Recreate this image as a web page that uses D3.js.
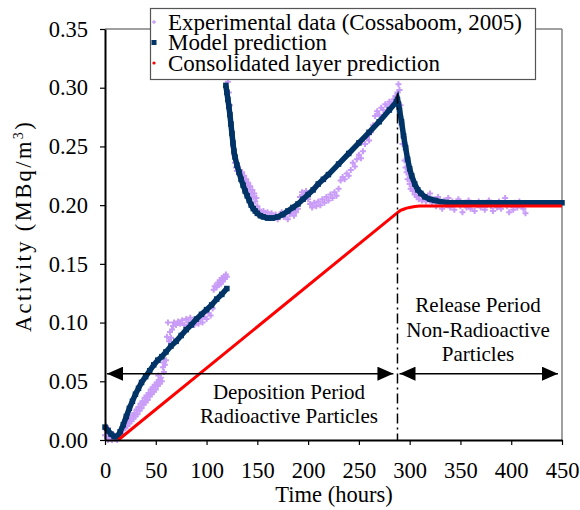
<!DOCTYPE html>
<html>
<head>
<meta charset="utf-8">
<script src="https://cdn.jsdelivr.net/npm/d3@7/dist/d3.min.js"></script>
<style>
  body { margin: 0; background: #fff; }
  svg text { font-family: "Liberation Serif", "Times New Roman", "DejaVu Serif", serif; fill: #000; }
</style>
</head>
<body>
<div id="chart"></div>
<script>
// Datos

// Datos experimentales (Cossaboom, 2005): [tiempo (h), actividad (MBq/m3)]
const experimental = [
  [0,0.004],[1,0.012],[1.5,0.008],[2,0.002],[3,0.010],[3,0.0],[4,0.006],[5,0.001],[6,0.003],[7,0.0],
  [8,0.002],[9,0.004],[10,0.001],[11,0.003],[12,0.0],[13,0.002],[14,0.005],[15,0.008],[16,0.006],[17,0.011],
  [18,0.009],[19,0.013],[20,0.010],[21,0.015],[22,0.012],[23,0.017],[24,0.014],[25,0.019],[26,0.016],[27,0.021],
  [28,0.018],[29,0.023],[30,0.020],[31,0.026],[32,0.022],[33,0.028],[34,0.025],[35,0.031],[36,0.027],[37,0.033],
  [38,0.030],[39,0.036],[40,0.032],[41,0.038],[42,0.034],[43,0.040],[44,0.037],[45,0.043],[46,0.039],[47,0.045],
  [48,0.041],[49,0.047],[50,0.043],[51,0.049],[52,0.046],[52.5,0.055],[53,0.051],[54,0.048],[55,0.053],[56,0.050],
  [57,0.062],[57.5,0.066],[58,0.058],[59,0.064],[60,0.068],[61,0.088],[62,0.100],[63,0.084],[64,0.092],[65,0.087],
  [66,0.094],[67,0.097],[68,0.100],[70,0.098],[72,0.101],[74,0.099],[76,0.102],[78,0.098],[80,0.103],[82,0.100],
  [84,0.104],[86,0.101],[88,0.098],[90,0.102],[92,0.099],[94,0.103],[96,0.100],[98,0.105],[100,0.103],[102,0.108],
  [104,0.106],[106,0.112],[107,0.128],[108,0.131],[110,0.130],[111,0.134],[112,0.132],[113,0.136],[114,0.133],[115,0.138],
  [116,0.135],[117,0.139],[118,0.137],[119,0.141],[120,0.139],
  [121,0.305],[122,0.296],[123,0.285],[124,0.270],[125,0.262],[126,0.250],[127,0.243],[128,0.236],[129,0.232],[130,0.229],
  [131,0.233],[132,0.226],[133,0.230],[134,0.224],[135,0.228],[136,0.221],[137,0.225],[138,0.219],[139,0.222],[140,0.216],
  [141,0.219],[142,0.213],[143,0.216],[144,0.210],[145,0.213],[146,0.207],[147,0.210],[148,0.203],[149,0.206],[150,0.199],
  [152,0.196],[154,0.193],[156,0.195],[158,0.191],[160,0.194],[162,0.190],[164,0.193],[166,0.189],[168,0.192],[170,0.188],
  [172,0.191],[174,0.194],[176,0.190],[178,0.193],[180,0.188],[182,0.192],[184,0.195],[186,0.191],[188,0.194],[190,0.197],
  [192,0.207],[194,0.211],[196,0.208],[198,0.212],[200,0.205],[202,0.201],[204,0.198],[206,0.202],[208,0.199],[210,0.203],
  [212,0.200],[214,0.205],[216,0.202],[218,0.207],[220,0.204],[222,0.209],[224,0.206],[226,0.211],[228,0.208],[230,0.214],
  [232,0.221],[234,0.224],[236,0.222],[238,0.227],[240,0.225],[242,0.230],[244,0.236],[246,0.233],[248,0.239],[250,0.243],
  [252,0.240],[254,0.246],[256,0.252],[258,0.258],[260,0.255],[262,0.262],[264,0.268],[266,0.276],[268,0.280],[270,0.277],
  [272,0.283],[274,0.281],[276,0.286],[278,0.284],[280,0.288],[282,0.286],[284,0.290],[286,0.293],[288,0.296],[289,0.303],
  [290,0.298],[291,0.285],[292,0.268],[293,0.252],[294,0.258],[295,0.238],[296,0.232],[297,0.228],[298,0.222],[299,0.226],
  [300,0.218],[301,0.214],[302,0.221],[303,0.212],[304,0.216],[305,0.209],[306,0.213],[307,0.207],[308,0.211],[309,0.205],
  [310,0.209],[312,0.204],[314,0.208],[316,0.203],[318,0.206],[320,0.210],[322,0.202],[324,0.205],[326,0.199],[328,0.207],
  [330,0.203],[332,0.197],[334,0.204],[336,0.200],[338,0.206],[340,0.198],[342,0.203],[344,0.196],[346,0.201],[348,0.205],
  [350,0.199],[352,0.194],[354,0.202],[356,0.198],[358,0.204],[360,0.197],[362,0.201],[364,0.195],[366,0.200],[368,0.203],
  [370,0.198],[372,0.202],[374,0.196],[376,0.200],[378,0.204],[380,0.199],[382,0.195],[384,0.201],[386,0.198],[388,0.203],
  [390,0.197],[392,0.201],[394,0.206],[396,0.199],[398,0.194],[400,0.200],[402,0.196],[404,0.202],[406,0.198],[408,0.203],
  [410,0.199],[412,0.197],[414,0.193]
];

// Prediccion del modelo, periodo 1 (antes del salto en t = 120 h)
const modelo1 = [
  [0,0.011],[3,0.008],[6,0.005],[9,0.003],[12,0.003],[15,0.007],[18,0.013],[21,0.020],[24,0.027],[27,0.033],
  [30,0.039],[33,0.044],[36,0.049],[40,0.054],[44,0.059],[48,0.064],[52,0.068],[56,0.071],[60,0.075],[65,0.080],
  [70,0.084],[75,0.089],[80,0.094],[85,0.098],[90,0.103],[95,0.107],[100,0.111],[105,0.115],[110,0.120],[115,0.124],
  [120,0.129]
];

// Prediccion del modelo, periodo 2
const modelo2 = [
  [119,0.302],[120,0.296],[121,0.290],[122,0.284],[123,0.277],[124,0.269],[125,0.261],[126,0.253],[127,0.246],[128,0.241],
  [130,0.234],[132,0.228],[134,0.222],[136,0.217],[138,0.212],[140,0.208],[142,0.204],[144,0.200],[146,0.197],[148,0.195],
  [150,0.193],[153,0.191],[156,0.190],[160,0.189],[165,0.189],[170,0.190],[175,0.192],[180,0.195],[185,0.198],[190,0.201],
  [195,0.205],[200,0.209],[205,0.213],[210,0.218],[215,0.222],[220,0.226],[230,0.235],[240,0.244],[250,0.253],[260,0.262],
  [270,0.271],[280,0.281],[287,0.288],[288,0.290],[289,0.286],[290,0.281],[292,0.271],[294,0.259],[296,0.249],[298,0.239],
  [300,0.231],[302,0.225],[305,0.218],[308,0.213],[311,0.210],[315,0.207],[320,0.205],[325,0.204],[330,0.203],[340,0.202],
  [450,0.202]
];

// Prediccion de la capa consolidada
const capa = [
  [13,0.0],[288,0.1936],[291,0.1955],[294,0.1965],[297,0.1975],[300,0.198],[305,0.1988],[310,0.1993],[450,0.1993]
];

// Ticks de los ejes
const xTicks = [0, 50, 100, 150, 200, 250, 300, 350, 400, 450];
const yTicks = [0, 0.05, 0.10, 0.15, 0.20, 0.25, 0.30, 0.35];

// Anotaciones
const tCorte = 288;          // linea vertical de separacion
const tCorteTop = 0.295;
const flechaY = 0.0565;      // altura de las flechas
const flechaDeposicion = [2, 284];
const flechaLiberacion = [290, 446];
const textoDeposicion = ["Deposition Period", "Radioactive Particles"];
const textoLiberacion = ["Release Period", "Non-Radioactive", "Particles"];

// Leyenda
const leyenda = [
  {label: "Experimental data (Cossaboom, 2005)", tipo: "exp"},
  {label: "Model prediction", tipo: "model"},
  {label: "Consolidated layer prediction", tipo: "capa"}
];

const colorExp = "#c99cf8";
const colorModelo = "#003366";
const colorCapa = "#ff0000";

const W = 580, H = 510;

const svg = d3.select("#chart").append("svg")
    .attr("width", W)
    .attr("height", H);

// Escalas
const x = d3.scaleLinear().domain([0, 450]).range([105, 562]);
const y = d3.scaleLinear().domain([0, 0.35]).range([440, 29]);

// Marco gris del area de trazado (arriba y a la derecha)
svg.append("line")
    .attr("x1", x(0)).attr("x2", x(450))
    .attr("y1", y(0.35)).attr("y2", y(0.35))
    .attr("stroke", "#808080").attr("stroke-width", 1.5);
svg.append("line")
    .attr("x1", x(450)).attr("x2", x(450))
    .attr("y1", y(0.35)).attr("y2", y(0))
    .attr("stroke", "#808080").attr("stroke-width", 1.5);

// Datos experimentales
svg.append("g").selectAll("path")
    .data(experimental)
    .enter()
    .append("path")
    .attr("transform", d => `translate(${x(d[0])},${y(d[1])})`)
    .attr("d", d3.symbol().type(d3.symbolCross).size(20))
    .attr("fill", colorExp);

// Modelo: linea gruesa + marcadores cuadrados
const linea = d3.line()
    .x(d => x(d[0]))
    .y(d => y(d[1]));

[modelo1, modelo2].forEach(serie => {
    svg.append("path")
        .attr("d", linea(serie))
        .attr("fill", "none")
        .attr("stroke", colorModelo)
        .attr("stroke-width", 5.5);
    svg.append("g").selectAll("rect")
        .data(serie)
        .enter()
        .append("rect")
        .attr("x", d => x(d[0]) - 2.75)
        .attr("y", d => y(d[1]) - 2.75)
        .attr("width", 5.5)
        .attr("height", 5.5)
        .attr("fill", colorModelo);
});

// Capa consolidada
svg.append("path")
    .attr("d", linea(capa))
    .attr("fill", "none")
    .attr("stroke", colorCapa)
    .attr("stroke-width", 3);

// Ejes
const fuente = 22.5;      // ejes
const fuenteLey = 23;     // leyenda
const fuenteNota = 21;    // textos de los periodos
const yAxis = svg.append("g")
    .attr("transform", `translate(${x(0)},0)`)
    .call(d3.axisLeft(y).tickValues(yTicks).tickFormat(d3.format(".2f")).tickSize(5).tickSizeOuter(0).tickPadding(12));
const xAxis = svg.append("g")
    .attr("transform", `translate(0,${y(0)})`)
    .call(d3.axisBottom(x).tickValues(xTicks).tickFormat(d3.format("d")).tickSize(5).tickSizeOuter(0).tickPadding(17));

[xAxis, yAxis].forEach(g => {
    g.attr("font-family", null);
    g.select(".domain").attr("stroke", "#000").attr("stroke-width", 2);
    g.selectAll(".tick line").attr("stroke", "#000").attr("stroke-width", 1.2);
    g.selectAll(".tick text")
        .attr("font-size", fuente)
        .attr("fill", "#000");
});

// Titulos de los ejes
svg.append("text")
    .attr("x", 334)
    .attr("y", 502)
    .attr("text-anchor", "middle")
    .attr("font-size", fuente)
    .text("Time (hours)");

const tituloY = svg.append("text")
    .attr("transform", "translate(31,226) rotate(-90)")
    .attr("text-anchor", "middle")
    .attr("font-size", fuente)
    .attr("letter-spacing", 2.4);
tituloY.append("tspan").text("Activity (MBq/m");
tituloY.append("tspan").attr("font-size", 14).attr("dy", -8).text("3");
tituloY.append("tspan").attr("dy", 8).text(")");

// Linea vertical punto-raya
svg.append("line")
    .attr("x1", x(tCorte)).attr("x2", x(tCorte))
    .attr("y1", y(tCorteTop)).attr("y2", y(0))
    .attr("stroke", "#000")
    .attr("stroke-width", 1.5)
    .attr("stroke-dasharray", "10,4,2,4");

// Flechas dobles
const defs = svg.append("defs");
defs.append("marker")
    .attr("id", "punta")
    .attr("viewBox", "0 0 16 14")
    .attr("refX", 16).attr("refY", 7)
    .attr("markerWidth", 16).attr("markerHeight", 14)
    .attr("markerUnits", "userSpaceOnUse")
    .attr("orient", "auto-start-reverse")
    .append("path")
    .attr("d", "M0,0 L16,7 L0,14 Z")
    .attr("fill", "#000");

[flechaDeposicion, flechaLiberacion].forEach(f => {
    svg.append("line")
        .attr("x1", x(f[0])).attr("x2", x(f[1]))
        .attr("y1", y(flechaY)).attr("y2", y(flechaY))
        .attr("stroke", "#000")
        .attr("stroke-width", 1.5)
        .attr("marker-start", "url(#punta)")
        .attr("marker-end", "url(#punta)");
});

// Textos de los periodos
textoDeposicion.forEach((t, i) => {
    svg.append("text")
        .attr("x", 289)
        .attr("y", 399 + i * 24)
        .attr("text-anchor", "middle")
        .attr("font-size", fuenteNota)
        .text(t);
});
textoLiberacion.forEach((t, i) => {
    svg.append("text")
        .attr("x", 478)
        .attr("y", 312 + i * 24.5)
        .attr("text-anchor", "middle")
        .attr("font-size", fuenteNota)
        .text(t);
});

// Leyenda
const ley = svg.append("g");
ley.append("rect")
    .attr("x", 150.5).attr("y", 8.5)
    .attr("width", 385).attr("height", 71)
    .attr("fill", "#fff")
    .attr("stroke", "#555")
    .attr("stroke-width", 1.2);

leyenda.forEach((d, i) => {
    const cy = 22 + i * 20.5;
    if (d.tipo === "exp") {
        ley.append("path")
            .attr("transform", `translate(154,${cy})`)
            .attr("d", d3.symbol().type(d3.symbolCross).size(8))
            .attr("fill", colorExp);
    } else if (d.tipo === "model") {
        ley.append("rect")
            .attr("x", 151.5).attr("y", cy - 2.5)
            .attr("width", 5).attr("height", 5)
            .attr("fill", colorModelo);
    } else {
        ley.append("circle")
            .attr("cx", 154).attr("cy", cy)
            .attr("r", 1.6)
            .attr("fill", colorCapa);
    }
    ley.append("text")
        .attr("x", 168)
        .attr("y", cy + 7.5)
        .attr("font-size", fuenteLey)
        .text(d.label);
});
</script>
</body>
</html>
